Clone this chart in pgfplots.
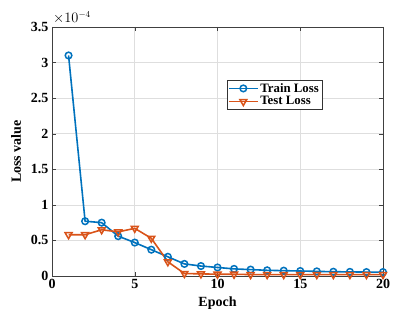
\documentclass[border=0pt]{standalone}
\usepackage{fontspec}
\setmainfont{Liberation Serif}
\usepackage{pgfplots}
\pgfplotsset{compat=1.18}
\definecolor{mblue}{HTML}{0072BD}
\definecolor{morange}{HTML}{D95319}
\begin{document}
\begin{tikzpicture}
\begin{axis}[
  scale only axis, width=331pt, height=249pt,
  xmin=0, xmax=20, ymin=0, ymax=3.5e-4,
  xtick={0,5,10,15,20}, ytick={0,0.5e-4,1e-4,1.5e-4,2e-4,2.5e-4,3e-4,3.5e-4},
  scaled y ticks=base 10:4,
  ytick scale label code/.code={},
  /pgf/number format/assume math mode=true,
  ticklabel style={font=\fontsize{14}{14}\selectfont\bfseries},
  xlabel={\fontsize{14}{14}\selectfont\bfseries Epoch},
  ylabel={\fontsize{14}{14}\selectfont\bfseries Loss value},
  xlabel style={yshift=-1pt}, ylabel style={yshift=3pt},
  grid=major, grid style={draw=black!13, line width=0.6pt},
  tick align=inside, axis line style={draw=black!75, line width=0.7pt},
  major tick length=4pt, tick style={draw=black!75},
  legend style={at={(0.529,0.787)}, anchor=north west, draw=black!80,
    font=\fontsize{12.8}{12.8}\selectfont\bfseries, inner sep=1pt, row sep=-1pt},
  legend cell align=left,
  legend image code/.code={\draw[#1] (0cm,0cm) -- (1.0cm,0cm); \draw[#1,only marks] plot coordinates {(0.5cm,0cm)};},
]
\addplot[color=mblue, line width=1.6pt, mark=o, mark size=3.3pt, mark options={line width=1.5pt}] coordinates {
  (1,3.1e-4)(2,0.77e-4)(3,0.75e-4)(4,0.56e-4)(5,0.47e-4)(6,0.37e-4)(7,0.27e-4)(8,0.17e-4)
  (9,0.14e-4)(10,0.12e-4)(11,0.10e-4)(12,0.09e-4)(13,0.08e-4)(14,0.075e-4)(15,0.07e-4)
  (16,0.065e-4)(17,0.06e-4)(18,0.058e-4)(19,0.055e-4)(20,0.055e-4)};
\addlegendentry{Train Loss}
\addplot[color=morange, line width=1.6pt, mark=triangle, mark size=4pt, mark options={rotate=180, line width=1.5pt}] coordinates {
  (1,0.58e-4)(2,0.58e-4)(3,0.65e-4)(4,0.62e-4)(5,0.67e-4)(6,0.53e-4)(7,0.20e-4)(8,0.035e-4)
  (9,0.03e-4)(10,0.025e-4)(11,0.025e-4)(12,0.02e-4)(13,0.02e-4)(14,0.02e-4)(15,0.02e-4)
  (16,0.02e-4)(17,0.02e-4)(18,0.02e-4)(19,0.02e-4)(20,0.02e-4)};
\addlegendentry{Test Loss}
\coordinate (sw) at (rel axis cs:0,0);
\coordinate (nw) at (rel axis cs:0,1);
\end{axis}
\node[anchor=south west, font=\fontsize{13.5}{14}\selectfont, inner sep=0pt, xshift=1pt, yshift=3pt] at (nw) {$\times 10^{-4}$};
\path[use as bounding box] (sw) ++(-52pt,-50pt) rectangle ++(403pt,326pt);
\end{tikzpicture}
\end{document}
